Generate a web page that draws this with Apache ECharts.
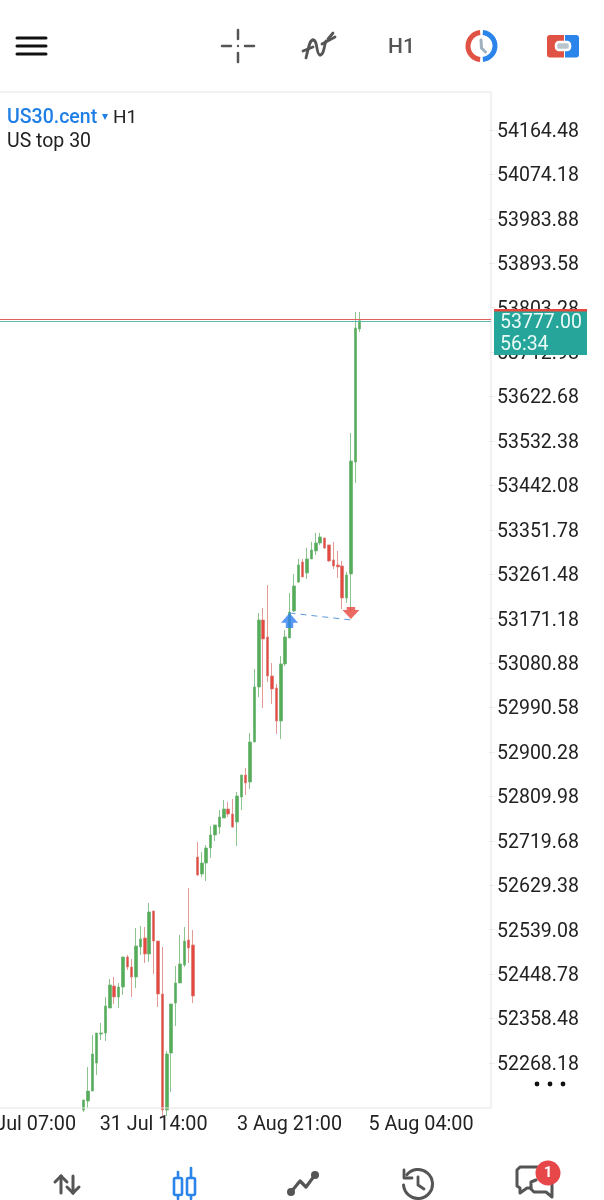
<!DOCTYPE html>
<html><head><meta charset="utf-8">
<style>html,body{margin:0;padding:0;background:#fff}#c{width:604px;height:1200px}</style>
<script src="https://cdn.jsdelivr.net/npm/echarts@6/dist/echarts.min.js"></script>
</head><body><div id="c"></div>
<script>
// [open, close, low, high]
const barsLateJuly = [
[52172.6,52193.0,52168.6,52193.0],[52190.9,52211.2,52176.7,52260.0],[52211.2,52286.4,52211.2,52325.1],[52268.2,52329.1,52243.8,52329.1],
[52327.0,52329.1,52314.9,52349.5],[52329.1,52384.0,52312.9,52402.3],[52379.9,52426.7,52379.9,52438.9],[52424.7,52402.3,52388.1,52443.0],
[52402.3,52422.6,52379.9,52430.8],[52422.6,52483.6,52406.4,52483.6],[52483.6,52463.3,52457.2,52487.7],[52463.3,52443.0,52402.3,52479.5],
[52443.0,52506.0,52420.6,52542.5],[52503.9,52520.2,52487.7,52546.6],[52522.2,52489.7,52471.4,52544.6],[52489.7,52575.1,52473.5,52593.4],
[52577.1,52516.1,52449.0,52577.1],[52516.1,52408.4,52382.0,52516.1],[52408.4,52172.6,52160.0,52503.9],[52172.6,52286.4,52160.0,52292.5],
[52288.5,52388.1,52209.2,52388.1],[52390.1,52430.8,52343.4,52465.3],[52430.8,52469.4,52430.8,52528.3],[52467.3,52516.1,52463.3,52544.6],
[52518.2,52501.9,52471.4,52623.8],[52508.0,52404.3,52390.1,52538.5]];
const barsEarlyAugust = [
[52686.8,52650.3,52648.2,52717.3],[52652.3,52674.6,52646.2,52697.0],[52674.6,52705.1,52638.1,52711.2],[52705.1,52731.6,52684.8,52749.9],
[52731.6,52751.9,52719.3,52751.9],[52747.8,52768.2,52733.6,52782.4],[52766.1,52784.4,52766.1,52802.7],[52784.4,52774.2,52768.2,52798.7],
[52774.2,52747.8,52745.8,52804.7],[52758.0,52810.8,52709.2,52819.0],[52808.8,52853.5,52782.4,52853.5],[52853.5,52837.3,52812.9,52867.7],
[52839.3,52920.6,52825.1,52938.9],[52920.6,53032.4,52920.6,53069.0],[53032.4,53168.6,53012.1,53182.8],[53168.6,53130.0,52989.7,53193.0],
[53134.1,53054.8,53042.6,53239.7],[53054.8,53028.4,52997.9,53081.2],[53030.4,52963.3,52936.9,53038.5],[52963.3,53079.2,52926.7,53095.5],
[53079.2,53134.1,53075.1,53148.3],[53132.0,53184.8,53132.0,53223.5],[53186.9,53237.7,53184.8,53262.1]];
const barsLatest = [
[53245.8,53280.4,53243.8,53292.6],[53286.5,53256.0,53256.0,53292.6],[53264.1,53292.6,53251.9,53315.0],[53292.6,53310.9,53292.6,53327.2],
[53308.9,53325.1,53300.7,53345.5],[53325.1,53337.3,53321.1,53345.5],[53335.3,53315.0,53312.9,53335.3],[53321.1,53288.5,53286.5,53321.1],
[53290.6,53278.4,53272.3,53327.2],[53280.4,53276.4,53254.0,53308.9],[53278.4,53213.3,53190.9,53288.5],[53213.3,53260.1,53203.1,53266.2],
[53262.1,53491.7,53184.8,53548.6],[53489.7,53762.1,53447.0,53794.7],[53760.1,53777.0,53754.0,53794.7]];
const emptyBarsBefore = 19;
const slotCount = 112;
const priceTicks = [54164.48,54074.18,53983.88,53893.58,53803.28,53712.98,53622.68,53532.38,53442.08,53351.78,53261.48,53171.18,53080.88,52990.58,52900.28,52809.98,52719.68,52629.38,52539.08,52448.78,52358.48,52268.18];
const timeLabels = {5:'30 Jul 07:00',35:'31 Jul 14:00',66:'3 Aug 21:00',96:'5 Aug 04:00'};
const bidPrice = 53777.00, askPrice = 53781.0;
const buySlot = 66, buyPrice = 53182.8, sellSlot = 80, sellPrice = 53168.6;
const symbolName='US30.cent', timeframe='H1', symbolDesc='US top 30', countdown='56:34', unread='1';

const GREEN='#55ad5a', RED='#e4483f', GREY='#555', BLUE='#2b84ea';
const categories = Array.from({length:slotCount},(_,i)=>timeLabels[i]||('b'+i));
const blank = Array(emptyBarsBefore).fill(['-','-','-','-']);
const bars = blank.concat(barsLateJuly,barsEarlyAugust,barsLatest);
const fillTo = m => categories.map((_,i)=> m[i]!==undefined ? m[i] : '-');
const tradeLine = fillTo({[buySlot]:buyPrice,[sellSlot]:sellPrice});
const FONT='Roboto';
const chart = echarts.init(document.getElementById('c'),null,{renderer:'canvas',width:604,height:1200});

const upArrow='path://M8 0L16 9L11.5 9L11.5 14L4.5 14L4.5 9L0 9Z';
const downArrow='path://M4 0L12 0L12 3L16 3L8 12L0 3L4 3Z';

chart.setOption({
  animation:false,backgroundColor:'#fff',
  grid:{left:-2,top:92,width:491,height:1016,containLabel:false,outerBoundsMode:'none'},
  xAxis:{type:'category',data:categories,boundaryGap:true,
    axisLine:{show:false},axisTick:{show:false},splitLine:{show:false},
    axisLabel:{interval:i=>!!timeLabels[i],formatter:v=>v.charAt(0)==='b'?'':v,color:'#222',fontFamily:FONT,fontSize:19.8,margin:7,hideOverlap:false}},
  yAxis:{type:'value',position:'right',min:52176.68,max:54241.7,scale:true,
    axisLine:{show:false},splitLine:{show:false},
    axisTick:{show:true,length:6,lineStyle:{color:'#ececec'},customValues:priceTicks},
    axisLabel:{customValues:priceTicks,formatter:v=>v.toFixed(2),color:'#222',fontFamily:FONT,fontSize:19.5,margin:8,verticalAlign:'top',lineHeight:4,hideOverlap:false}},
  series:[
   {type:'candlestick',data:bars,barWidth:3,clip:true,
    itemStyle:{color:GREEN,color0:RED,borderColor:'#6fb573',borderColor0:'#dc7f78',borderWidth:0.8}},
   {type:'line',data:tradeLine,connectNulls:true,symbol:'none',silent:true,z:3,
    lineStyle:{color:'#5b9be0',width:1,type:[6,5]}},
   {type:'scatter',data:fillTo({[buySlot]:buyPrice}),symbol:upArrow,symbolSize:[17,15],symbolOffset:[0,7.5],itemStyle:{color:'#2f7ff0'},z:4},
   {type:'scatter',data:fillTo({[sellSlot]:sellPrice}),symbol:downArrow,symbolSize:[17,12],symbolOffset:[0,-7],itemStyle:{color:'#e8443c'},z:4}
  ]
});

const yAsk=Math.round(chart.convertToPixel({yAxisIndex:0},askPrice))+0.5, yBid=Math.round(chart.convertToPixel({yAxisIndex:0},bidPrice))+0.5;
const st=(c,w)=>({stroke:c,lineWidth:w,fill:null,lineCap:'round',lineJoin:'round'});
const L=(a,b,c,d,col,w,z)=>({type:'line',shape:{x1:a,y1:b,x2:c,y2:d},style:st(col,w),z:z||50});
const P=(pts,col,w)=>({type:'polyline',shape:{points:pts},style:st(col,w),z:50});
const B=(a,b,c,d,e,f,g,h,col,w)=>({type:'bezierCurve',shape:{x1:a,y1:b,cpx1:c,cpy1:d,cpx2:e,cpy2:f,x2:g,y2:h},style:st(col,w),z:50});
const T=(x,y,t,f,col,extra)=>({type:'text',x,y,z:60,style:Object.assign({text:t,font:f,fill:col,verticalAlign:'middle'},extra||{})});
const G=[];
G.push({type:'rect',shape:{x:-5,y:92,width:496,height:1016},style:{fill:null,stroke:'#e4e4e4',lineWidth:1},z:5});
G.push({type:'line',silent:true,shape:{x1:0,y1:yAsk,x2:491,y2:yAsk},style:{stroke:'#e0605a',lineWidth:1},z:6});
G.push({type:'line',silent:true,shape:{x1:0,y1:yBid,x2:491,y2:yBid},style:{stroke:'#5fb8af',lineWidth:1},z:6});
G.push(T(7,118.5,symbolName,'500 19.5px '+FONT,'#1f7fe5'));
G.push({type:'polygon',shape:{points:[[102,114],[108,114],[105,120]]},style:{fill:'#1f7fe5'},z:60});
G.push(T(113,118.5,timeframe,'19px '+FONT,'#222'));
G.push(T(7,142.5,symbolDesc,'19.5px '+FONT,'#222'));
G.push({type:'rect',shape:{x:494,y:309,width:93,height:46},style:{fill:'#26a69a'},z:60});
G.push({type:'rect',shape:{x:494,y:309,width:93,height:2.5},style:{fill:'#e4483f'},z:61});
G.push(T(500,323.5,bidPrice.toFixed(2),'19.5px '+FONT,'#eafaf7'));
G.push(T(500,345.5,countdown,'19.5px '+FONT,'#eafaf7'));
[537,550,563].forEach(x=>G.push({type:'circle',shape:{cx:x,cy:1084,r:2.4},style:{fill:'#111'},z:60}));
[38,46,54].forEach(y=>G.push(L(17,y,46,y,'#111',3)));
G.push(L(222,46,231,46,GREY,2.5),L(245,46,254,46,GREY,2.5),L(238,30,238,39,GREY,2.5),L(238,53,238,62,GREY,2.5));
G.push({type:'circle',shape:{cx:238,cy:46,r:1.2},style:{fill:GREY},z:50});
G.push(B(306,58,309,45,310,40,313,40,GREY,2.8),B(313,40,318,40,316,55,320,55,GREY,2.8),B(320,55,324,55,324,46,326,41,GREY,2.8));
G.push(L(328,39,333,33,GREY,2.8),L(303,51,313,47,GREY,2.8),L(322,44,335,37,GREY,2.8));
G.push(T(388,47.5,timeframe,'500 21px '+FONT,GREY));
G.push({type:'arc',shape:{cx:481.5,cy:46,r:13.5,startAngle:Math.PI/2+0.1,endAngle:Math.PI*3/2-0.1,clockwise:true},style:{stroke:'#e05243',lineWidth:5,fill:null},z:50});
G.push({type:'arc',shape:{cx:481.5,cy:46,r:13.5,startAngle:-Math.PI/2+0.1,endAngle:Math.PI/2-0.1,clockwise:true},style:{stroke:'#2b84ea',lineWidth:5,fill:null},z:50});
G.push(L(481,40,481.5,48,'#9fb0bf',3),L(481.5,48,485.5,52,'#9fb0bf',3));
G.push({type:'rect',shape:{x:547,y:35,width:17,height:22.5,r:[3,0,0,3]},style:{fill:'#e05243'},z:50});
G.push({type:'rect',shape:{x:565,y:35,width:14,height:22.5,r:[0,3,3,0]},style:{fill:'#2b84ea'},z:50});
G.push({type:'rect',shape:{x:556,y:42,width:14,height:8,r:3},style:{fill:'#b9c4cc',stroke:'#fff',lineWidth:2.5},z:51});
G.push(L(61,1176,61,1193,GREY,3),L(55,1182,61,1176,GREY,3),L(67,1182,61,1176,GREY,3));
G.push(L(73,1176,73,1193,GREY,3),L(67,1187,73,1193,GREY,3),L(79,1187,73,1193,GREY,3));
[[178,1178,1195,1172,1199],[191,1178,1195,1168,1199]].forEach(a=>{
  G.push(L(a[0],a[3],a[0],a[4],BLUE,2.6));
  G.push({type:'rect',shape:{x:a[0]-4,y:a[1],width:8,height:a[2]-a[1],r:1.5},style:{fill:'#fff',stroke:BLUE,lineWidth:2.6},z:51});
});
G.push(P([[291,1192],[300,1181],[306,1187],[315,1175]],GREY,3.2));
[[291,1192],[315,1175]].forEach(p=>G.push({type:'circle',shape:{cx:p[0],cy:p[1],r:4},style:{fill:GREY},z:50}));
G.push({type:'arc',shape:{cx:418,cy:1184,r:14.5,startAngle:-Math.PI*0.78,endAngle:Math.PI*0.98,clockwise:true},style:st(GREY,3),z:50});
G.push(P([[404,1170],[404,1178],[412,1178]],GREY,2.8));
G.push(P([[418,1177],[418,1185],[424,1189]],GREY,2.8));
G.push(P([[540,1167],[520,1167],[517,1170],[517,1186],[520,1188],[520,1193],[527,1188],[531,1188]],GREY,3));
G.push(P([[552,1180],[552,1197],[546,1192],[534,1192],[531,1189],[531,1182],[536,1180]],GREY,3));
G.push({type:'circle',shape:{cx:548,cy:1173,r:12.5},style:{fill:'#e8474a'},z:55});
G.push({type:'text',x:548,y:1173,z:60,style:{text:unread,font:'700 15px '+FONT,fill:'#fff',align:'center',verticalAlign:'middle'}});
chart.setOption({graphic:{elements:G}});
</script></body></html>
